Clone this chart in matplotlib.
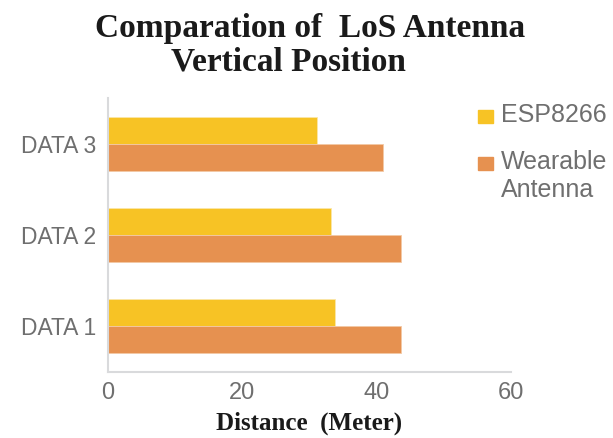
import matplotlib.pyplot as plt
from matplotlib.patches import Rectangle

categories = ['DATA 1', 'DATA 2', 'DATA 3']
esp8266 = [33.8, 33.2, 31.2]
wearable = [43.7, 43.7, 40.9]
series_names = ['ESP8266', 'Wearable\nAntenna']

yellow = '#F7C325'
orange = '#E69150'
gray = '#6f6f6f'

fig = plt.figure(figsize=(6.13, 4.38), dpi=100)
ax = fig.add_axes([0.1754, 0.1507, 0.6582, 0.6256])

pos = list(range(len(categories)))
h = 0.295
ax.barh([p + h / 2 for p in pos], esp8266, height=h, color=yellow,
        edgecolor='#fbe7a8', linewidth=0.6)
ax.barh([p - h / 2 for p in pos], wearable, height=h, color=orange,
        edgecolor='#f3c9a5', linewidth=0.6)

ax.set_xlim(0, 60)
ax.set_ylim(-0.5, 2.5)
ax.set_xticks([0, 20, 40, 60])
ax.set_yticks(pos)
ax.set_yticklabels(categories)
ax.tick_params(length=0, labelcolor=gray)
ax.tick_params(axis='y', pad=8, labelsize=16.5)
ax.tick_params(axis='x', pad=7, labelsize=17)
for lab in ax.get_xticklabels() + ax.get_yticklabels():
    lab.set_family('Liberation Sans')

for s in ['top', 'right']:
    ax.spines[s].set_visible(False)
for s in ['left', 'bottom']:
    ax.spines[s].set_color('#d9dadc')
    ax.spines[s].set_linewidth(1.5)

ax.set_xlabel('Distance  (Meter)', family='Liberation Serif', weight='bold',
              fontsize=18, color='#1a1a1a', labelpad=6)

fig.text(0.506, 0.915, 'Comparation of  LoS Antenna', ha='center', va='baseline',
         family='Liberation Serif', weight='bold', fontsize=24, color='#1a1a1a')
fig.text(0.471, 0.838, 'Vertical Position', ha='center', va='baseline',
         family='Liberation Serif', weight='bold', fontsize=24, color='#1a1a1a')

# legend drawn by hand: square sits beside the first line of each label
W, H = 613, 438
legend_tops = [107, 154]   # top of first text line, pixels from top
for top, col, name in zip(legend_tops, [yellow, orange], series_names):
    fig.patches.append(Rectangle((478 / W, 1 - (top + 16) / H), 15 / W, 13 / H,
                                 transform=fig.transFigure, color=col))
    fig.text(501 / W, 1 - (top - 4) / H, name, ha='left', va='top',
             family='Liberation Sans', fontsize=18, color=gray, linespacing=1.2)

fig.savefig('out.png', dpi=100)
